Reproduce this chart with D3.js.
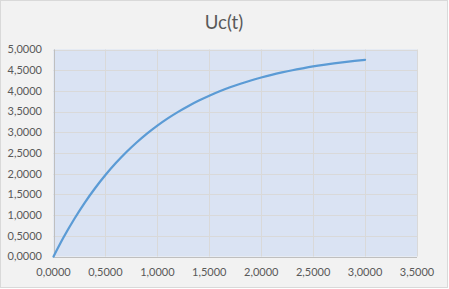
<!DOCTYPE html>
<html><head><meta charset="utf-8">
<script src="https://cdn.jsdelivr.net/npm/d3@7"></script>
<style>html,body{margin:0;padding:0;background:#fff;}svg{display:block;}</style>
</head><body>
<script>
const title = "Uc(t)";
const tValues = [0,0.1,0.2,0.3,0.4,0.5,0.6,0.7,0.8,0.9,1.0,1.1,1.2,1.3,1.4,1.5,1.6,1.7,1.8,1.9,2.0,2.1,2.2,2.3,2.4,2.5,2.6,2.7,2.8,2.9,3.0];
const ucValues = [0,0.476,0.906,1.296,1.648,1.967,2.256,2.517,2.753,2.967,3.161,3.336,3.494,3.637,3.767,3.884,3.991,4.087,4.174,4.252,4.323,4.388,4.446,4.499,4.546,4.590,4.629,4.664,4.696,4.725,4.751];
const xTicks = [0,0.5,1,1.5,2,2.5,3,3.5];
const yTicks = [0,0.5,1,1.5,2,2.5,3,3.5,4,4.5,5];

const W = 449, H = 289;
const m = {left:53.5, right:417, top:49.5, bottom:256.5};
const fmt = v => v.toFixed(4).replace('.', ',');
const font = "Lato, 'Open Sans', sans-serif";

const svg = d3.select("body").append("svg").attr("width", W).attr("height", H);
svg.append("rect").attr("x",0.5).attr("y",0.5).attr("width",447).attr("height",287)
  .attr("fill","#f2f2f2").attr("stroke","#d9d9d9");

const x = d3.scaleLinear().domain([0,3.5]).range([m.left, m.right]);
const y = d3.scaleLinear().domain([0,5]).range([m.bottom, m.top]);

svg.append("rect").attr("x",m.left).attr("y",m.top).attr("width",m.right-m.left).attr("height",m.bottom-m.top)
  .attr("fill","#dae3f3");

// grid
svg.append("g").selectAll("line").data(yTicks).join("line")
  .attr("x1",m.left).attr("x2",m.right)
  .attr("y1",d=>Math.round(y(d))+0.5).attr("y2",d=>Math.round(y(d))+0.5)
  .attr("stroke","#d9d9d9").attr("stroke-width",1);
svg.append("g").selectAll("line").data(xTicks).join("line")
  .attr("y1",m.top).attr("y2",m.bottom)
  .attr("x1",d=>Math.round(x(d))+0.5).attr("x2",d=>Math.round(x(d))+0.5)
  .attr("stroke","#d9d9d9").attr("stroke-width",1);

// axes lines
svg.append("line").attr("x1",Math.round(m.left)+0.5).attr("x2",Math.round(m.left)+0.5)
  .attr("y1",m.top).attr("y2",m.bottom).attr("stroke","#bfbfbf");
svg.append("line").attr("x1",m.left).attr("x2",m.right)
  .attr("y1",Math.round(m.bottom)+0.5).attr("y2",Math.round(m.bottom)+0.5).attr("stroke","#bfbfbf");

// labels
svg.append("g").selectAll("text").data(yTicks).join("text")
  .attr("x",42).attr("y",d=>y(d)).attr("dy","0.35em")
  .attr("text-anchor","end").attr("font-family",font).attr("font-size",11).attr("fill","#595959")
  .text(fmt);
svg.append("g").selectAll("text").data(xTicks).join("text")
  .attr("x",d=>x(d)).attr("y",272).attr("dy","0.35em")
  .attr("text-anchor","middle").attr("font-family",font).attr("font-size",11).attr("fill","#595959")
  .text(fmt);

svg.append("text").attr("x",224).attr("y",29).attr("text-anchor","middle")
  .attr("font-family",font).attr("font-size",18.6).attr("fill","#595959").text(title);

const line = d3.line().x((d,i)=>x(tValues[i])).y(d=>y(d)).curve(d3.curveMonotoneX);
svg.append("path").datum(ucValues).attr("d",line).attr("fill","none")
  .attr("stroke","#5b9bd5").attr("stroke-width",2.25).attr("stroke-linecap","round");
</script>
</body></html>
